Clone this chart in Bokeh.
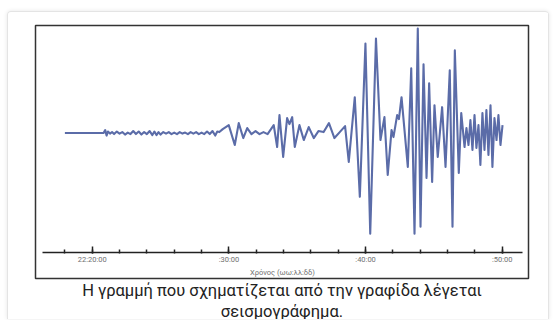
from bokeh.plotting import figure
from bokeh.models import FixedTicker, Range1d, Title
from bokeh.embed import file_html
from bokeh.resources import INLINE

# time in minutes after 22:00, amplitude in arbitrary units
time_min = [
    18.0, 20.83,
    20.95, 21.05, 21.15, 21.3, 21.45, 21.6, 21.8, 22.0, 22.2, 22.4, 22.6, 22.8, 23.0, 23.2,
    23.4, 23.6, 23.8, 24.0, 24.2, 24.4, 24.55, 24.7, 24.85, 25.0, 25.2, 25.4, 25.6, 25.8,
    26.0, 26.2, 26.4, 26.6, 26.8, 27.0, 27.2, 27.4, 27.6, 27.8, 28.0, 28.2, 28.4, 28.6,
    28.8, 29.0, 29.15, 29.3,
    29.55, 29.99, 30.43, 30.72, 31.05, 31.34, 31.65, 31.95, 32.24, 32.53, 32.83,
    33.28, 33.53, 33.70, 33.97, 34.26, 34.43, 34.63, 34.82, 35.16, 35.48, 35.84, 36.21,
    36.55, 36.93, 37.32, 37.72, 38.11, 38.50,
    38.77, 39.21, 39.58, 39.99, 40.34, 40.76, 41.09, 41.38, 41.62, 41.90, 42.04, 42.31,
    42.44, 42.63, 43.09, 43.34, 43.58, 43.82, 44.02, 44.24, 44.46, 44.65, 44.87, 45.04,
    45.28, 45.60, 45.85, 46.16, 46.36, 46.53, 46.82, 47.00, 47.24,
    47.38, 47.53, 47.67, 47.82, 47.97, 48.11, 48.26, 48.40, 48.55, 48.70, 48.84, 48.99,
    49.14, 49.28, 49.43, 49.58, 49.72, 49.87, 50.02,
]
amplitude = [
    0, 0,
    3, -2.5, 1.5, -0.5, 1, -1, 1.5, -0.5, 1, -1.5, 0.5, -1, 2, -1,
    1.5, -1.5, 1, -1, 2, -2, 1.5, -2, 1, -1.5, 1, -0.5, 1, -1,
    0.5, -1, 1, -0.5, 0.5, -1, 1, -0.5, 1, -1, 0.5, -1, 1.5, -1,
    2, -2.5, 1.5, 1,
    4, 8, -12, 10, -5, 5, -1, 2, -1, 1, -1,
    8, -14, 18, -24, 15, 9, 16, -14, 8, -7, 6, -5,
    2, 1, 10, -5, 1, 7,
    -29, 36, -64, 90, -101, 95, -7, 16, -42, 3, -4, 18,
    14, 36, -34, 65, -101, 105, -94, 69, -45, 50, -49, 28,
    -24, 26, -34, 63, -94, 83, -40, 20, -14,
    5, -12, 13, -17, 18, -15, 8, -32, 20, -17, 23, -22,
    28, -34, 15, -7, 18, -12, 8,
]

major_ticks = [20, 30, 40, 50]
minor_ticks = [18, 20, 22, 24, 26, 28, 30, 32, 34, 36, 38, 40, 42, 44, 46, 48, 50]
tick_labels = {20: "22:20:00", 30: ":30:00", 40: ":40:00", 50: ":50:00"}
axis_title = "Χρόνος (ωω:λλ:δδ)"
caption_1 = "Η γραμμή που σχηματίζεται από την γραφίδα λέγεται"
caption_2 = "σεισμογράφημα."

p = figure(width=542, height=308, output_backend="svg", toolbar_location=None,
           x_range=Range1d(15.85, 51.92), y_range=Range1d(-146, 108),
           y_axis_location=None,
           min_border_left=27, min_border_right=22, min_border_top=13, min_border_bottom=41)
p.styles = {"margin-left": "7px", "margin-top": "11px",
            "border": "1px solid #e4e4e4", "border-bottom": "none",
            "box-shadow": "0 0 4px rgba(0,0,0,0.10)", "border-radius": "4px 4px 0 0"}
p.background_fill_color = "white"
p.border_fill_color = "white"
p.outline_line_color = "#333333"
p.outline_line_width = 1.5
p.grid.visible = False

p.line(time_min, amplitude, line_color="#5b6ca8", line_width=2.1, line_join="round")

ax = p.xaxis[0]
ax.fixed_location = -120
ax.bounds = (16.34, 51.46)
ax.ticker = FixedTicker(ticks=major_ticks, minor_ticks=minor_ticks)
ax.major_label_overrides = tick_labels
ax.major_label_text_font = "Roboto"
ax.major_label_text_font_size = "7.5px"
ax.major_label_text_color = "#707070"
ax.major_label_standoff = 1
ax.axis_label = axis_title
ax.axis_label_text_font = "Roboto"
ax.axis_label_text_font_size = "7.5px"
ax.axis_label_text_font_style = "normal"
ax.axis_label_text_color = "#707070"
ax.axis_label_standoff = 1
ax.axis_line_color = "#222222"
ax.axis_line_width = 1.6
ax.major_tick_line_color = "#222222"
ax.major_tick_line_width = 1.5
ax.major_tick_in = 6
ax.major_tick_out = 1
ax.minor_tick_line_color = "#222222"
ax.minor_tick_line_width = 1.5
ax.minor_tick_in = 3
ax.minor_tick_out = 1

for txt in (caption_1, caption_2):
    p.add_layout(Title(text=txt, align="center", text_font="Roboto",
                       text_font_size="16.5px", text_font_style="normal",
                       text_line_height=0.95,
                       text_color="#222222", standoff=0), "below")

open("out.html", "w").write(file_html(p, INLINE))
